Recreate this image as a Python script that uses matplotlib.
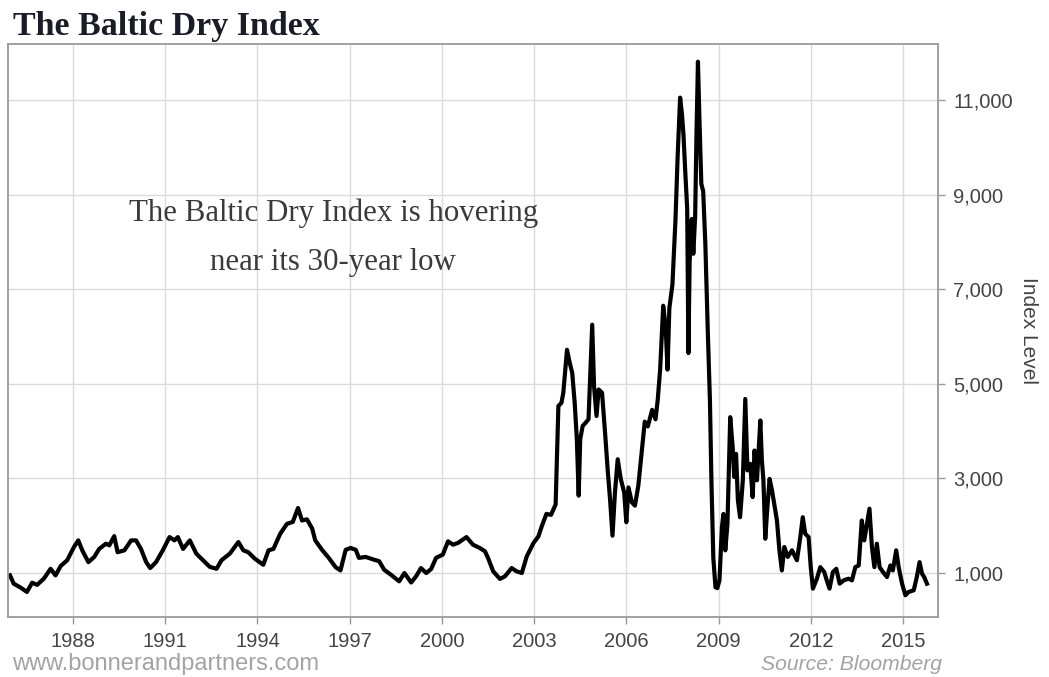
import numpy as np
import matplotlib

matplotlib.use("Agg")
import matplotlib.pyplot as plt

# ---- palette ---------------------------------------------------------------
INK = "#1c1c28"
TEXT = "#3a3a3a"
TICK = "#444444"
FAINT = "#a3a3a3"
GRID = "#dadada"
FRAME = "#9a9a9a"

# ---- data: Baltic Dry Index (decimal year, index level) --
years = [
    1985.95, 1986.07, 1986.3, 1986.5, 1986.67, 1986.83, 1987.05, 1987.27,
    1987.43, 1987.6, 1987.81, 1988.03, 1988.17, 1988.3, 1988.5, 1988.69,
    1988.85, 1989.07, 1989.18, 1989.34, 1989.45, 1989.67, 1989.89, 1990.05,
    1990.21, 1990.38, 1990.51, 1990.7, 1990.92, 1991.14, 1991.3, 1991.41,
    1991.58, 1991.8, 1992.01, 1992.23, 1992.45, 1992.67, 1992.83, 1993.1,
    1993.38, 1993.54, 1993.7, 1993.92, 1994.19, 1994.36, 1994.52, 1994.74,
    1994.96, 1995.15, 1995.32, 1995.45, 1995.61, 1995.78, 1995.88, 1996.1,
    1996.32, 1996.54, 1996.7, 1996.87, 1997.03, 1997.2, 1997.3, 1997.52,
    1997.8, 1997.96, 1998.12, 1998.34, 1998.61, 1998.78, 1999.0, 1999.16,
    1999.32, 1999.49, 1999.65, 1999.81, 2000.03, 2000.2, 2000.36, 2000.52,
    2000.8, 2001.01, 2001.23, 2001.4, 2001.5, 2001.67, 2001.89, 2002.05,
    2002.27, 2002.43, 2002.6, 2002.76, 2002.98, 2003.14, 2003.25, 2003.4,
    2003.55, 2003.7, 2003.79, 2003.89, 2003.95, 2004.07, 2004.16, 2004.24,
    2004.32, 2004.39, 2004.45, 2004.5, 2004.58, 2004.68, 2004.77, 2004.82,
    2004.89, 2004.95, 2005.03, 2005.1, 2005.21, 2005.3, 2005.4, 2005.47,
    2005.55, 2005.63, 2005.72, 2005.82, 2005.93, 2006.0, 2006.07, 2006.18,
    2006.28, 2006.39, 2006.49, 2006.6, 2006.7, 2006.84, 2006.95, 2007.02,
    2007.1, 2007.2, 2007.28, 2007.34, 2007.4, 2007.5, 2007.6, 2007.67,
    2007.75, 2007.81, 2007.86, 2007.92, 2007.98, 2008.02, 2008.06, 2008.13,
    2008.18, 2008.24, 2008.28, 2008.33, 2008.38, 2008.44, 2008.5, 2008.57,
    2008.65, 2008.72, 2008.77, 2008.83, 2008.9, 2008.96, 2009.03, 2009.11,
    2009.16, 2009.22, 2009.29, 2009.38, 2009.46, 2009.51, 2009.57, 2009.63,
    2009.7, 2009.79, 2009.87, 2009.94, 2010.03, 2010.11, 2010.17, 2010.25,
    2010.36, 2010.41, 2010.46, 2010.52, 2010.59, 2010.66, 2010.74, 2010.81,
    2010.9, 2010.98, 2011.06, 2011.14, 2011.25, 2011.39, 2011.55, 2011.66,
    2011.74, 2011.82, 2011.93, 2012.0, 2012.07, 2012.2, 2012.31, 2012.44,
    2012.52, 2012.61, 2012.72, 2012.83, 2012.94, 2013.07, 2013.23, 2013.34,
    2013.45, 2013.56, 2013.66, 2013.74, 2013.83, 2013.91, 2013.99, 2014.07,
    2014.15, 2014.24, 2014.35, 2014.48, 2014.59, 2014.67, 2014.78, 2014.86,
    2014.97, 2015.08, 2015.18, 2015.35, 2015.45, 2015.54, 2015.62, 2015.69,
    2015.78,
]
index_level = [
    950, 775, 690, 600, 795, 750, 880, 1090,
    950, 1150, 1270, 1550, 1690, 1480, 1230, 1340,
    1510, 1620, 1585, 1780, 1440, 1480, 1690, 1690,
    1510, 1230, 1105, 1230, 1480, 1760, 1690, 1760,
    1510, 1690, 1410, 1270, 1130, 1090, 1270, 1410,
    1655, 1480, 1440, 1300, 1175, 1480, 1510, 1830,
    2040, 2080, 2375, 2110, 2135, 1940, 1690, 1490,
    1320, 1125, 1055, 1490, 1530, 1490, 1320, 1340,
    1280, 1250, 1070, 965, 825, 1000, 800, 930,
    1105, 1000, 1085, 1320, 1390, 1670, 1600, 1635,
    1760, 1600, 1530, 1460, 1320, 1035, 875, 930,
    1105, 1035, 1000, 1350, 1635, 1775, 1990, 2250,
    2230, 2450, 4530, 4600, 4810, 5720, 5440, 5230,
    4600, 3830, 2635, 3830, 4110, 4180, 4250, 5090,
    6250, 4950, 4320, 4880, 4810, 4040, 3125, 2565,
    1790, 2705, 3405, 2985, 2705, 2075, 2810, 2495,
    2425, 2845, 3500, 4200, 4100, 4450, 4250, 4650,
    5300, 6650, 6200, 5300, 6600, 7100, 8485, 9815,
    11050, 10700, 10260, 9445, 8710, 5650, 7600, 8485,
    7750, 8560, 10185, 11810, 10555, 9225, 9075, 7970,
    6120, 4645, 2900, 1320, 700, 680, 845, 1970,
    2250, 1480, 2040, 4295, 3660, 3030, 3520, 2535,
    2180, 2960, 4680, 3170, 3310, 2605, 3590, 2960,
    4225, 3380, 2960, 1725, 2395, 2990, 2745, 2465,
    2110, 1480, 1055, 1550, 1340, 1480, 1270, 1760,
    2180, 1830, 1760, 1125, 670, 880, 1125, 1020,
    845, 670, 1020, 1090, 775, 845, 880, 845,
    1125, 1160, 2110, 1690, 2040, 2360, 1550, 1125,
    1620, 1125, 1020, 915, 1160, 1055, 1480, 1125,
    775, 530, 600, 635, 915, 1230, 985, 915,
    775,
]

year_ticks = [1988, 1991, 1994, 1997, 2000, 2003, 2006, 2009, 2012, 2015]
level_ticks = [1000, 3000, 5000, 7000, 9000, 11000]

plt.rcParams.update({
    "font.family": "sans-serif",
    "font.sans-serif": ["Liberation Sans", "DejaVu Sans"],
})

fig = plt.figure(figsize=(10.49, 6.77), dpi=100)
fig.patch.set_facecolor("white")
ax = fig.add_axes([0.0072, 0.0886, 0.8870, 0.8464])

ax.plot(years, index_level, color="black", lw=3.0, solid_joinstyle="round")

ax.set_xlim(1985.87, 2016.14)
ax.set_ylim(70, 12184)
ax.set_xticks(year_ticks)
ax.set_xticklabels([str(y) for y in year_ticks])
ax.set_yticks(level_ticks)
ax.set_yticklabels([f"{v:,}" for v in level_ticks])
ax.yaxis.tick_right()
ax.grid(True, color=GRID, lw=1.0)
ax.set_axisbelow(True)
ax.tick_params(axis="both", direction="out", length=5, width=1.0,
               color=FRAME, labelcolor=TICK, labelsize=14.5)
ax.tick_params(axis="x", pad=6)
ax.tick_params(axis="y", pad=6)
for side in ax.spines.values():
    side.set_color(FRAME)
    side.set_linewidth(1.3)

ax.yaxis.set_label_position("right")
ax.set_ylabel("Index Level", rotation=270, fontsize=15, color=TICK,
              labelpad=18)

ax.text(0.35, 0.662, "The Baltic Dry Index is hovering\nnear its 30-year low",
        transform=ax.transAxes, ha="center", va="center", fontsize=22.2,
        family="Liberation Serif", color=TEXT, linespacing=1.9)

fig.text(13 / 1049, 1 - 27 / 677, "The Baltic Dry Index", ha="left",
         va="center", fontsize=24.5, fontweight="bold",
         family="Liberation Serif", color=INK)
fig.text(12 / 1049, 1 - 664 / 677, "www.bonnerandpartners.com", ha="left",
         va="center", fontsize=17, color=FAINT)
fig.text(942 / 1049, 1 - 664 / 677, "Source: Bloomberg", ha="right",
         va="center", fontsize=15.2, style="italic", color=FAINT)

fig.savefig("out.png", dpi=100)
